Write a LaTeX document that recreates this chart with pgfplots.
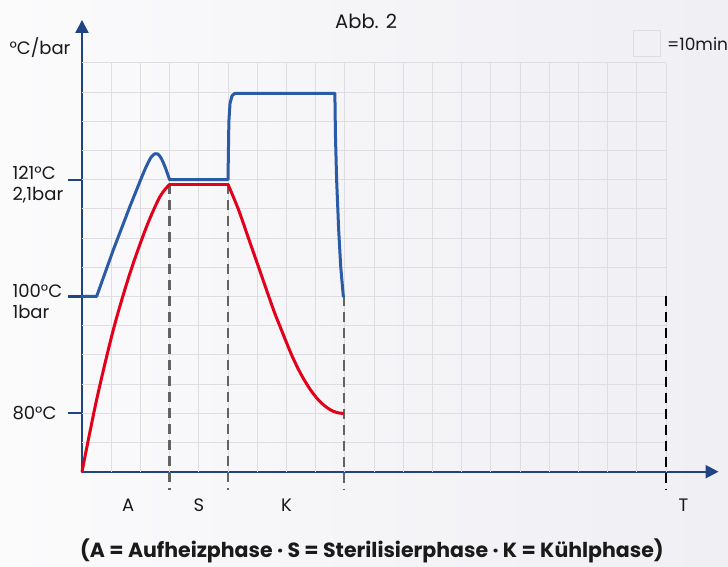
\documentclass[border=0pt]{standalone}
\usepackage{pgfplots}
\pgfplotsset{compat=1.18}
\usepackage{fontspec}
\setmainfont{Poppins}
\usetikzlibrary{arrows.meta}
\definecolor{axisblue}{HTML}{1E4483}
\definecolor{curveblue}{HTML}{2B5BA6}
\definecolor{curvered}{HTML}{E2001A}
\definecolor{dashgray}{HTML}{636363}
\definecolor{gridgray}{HTML}{DEDEE2}
\definecolor{txt}{HTML}{1A1A1A}
\definecolor{bgleft}{HTML}{FBFBFC}
\definecolor{bgright}{HTML}{EFEFF4}
\begin{document}
\begin{tikzpicture}
\fill[left color=bgleft, right color=bgright] (-82bp,-95.3bp) rectangle (646bp,471.7bp);
\begin{axis}[
  x=29.2bp, y=29.2bp,
  xmin=0, xmax=21.8, ymin=0, ymax=15.47,
  axis lines=left,
  axis line style={draw=axisblue, line width=2.2bp},
  x axis line style={-{Triangle[length=13bp,width=13bp]}},
  y axis line style={-{Triangle[length=13bp,width=13bp]}},
  xtick=\empty,
  ytick={2,6,10}, yticklabels={},
  major tick length=14bp, tick align=outside,
  ytick pos=left,
  tick style={draw=axisblue, line width=2.2bp},
  clip=false,
  every axis plot/.append style={line join=round, line cap=round},
  font=\fontsize{18bp}{20bp}\selectfont,
]
% grid
\pgfplotsinvokeforeach{1,...,20}{\draw[gridgray, line width=1bp] (axis cs:#1,0) -- (axis cs:#1,14);}
\pgfplotsinvokeforeach{1,...,14}{\draw[gridgray, line width=1bp] (axis cs:0,#1) -- (axis cs:20,#1);}
% dashed markers
\addplot[dashgray, line width=2.5bp, dash pattern=on 10bp off 6bp, line cap=butt] coordinates {(3,9.84) (3,-0.62)};
\addplot[dashgray, line width=2.5bp, dash pattern=on 10bp off 6bp, line cap=butt] coordinates {(5,9.84) (5,-0.62)};
\addplot[dashgray, line width=2.5bp, dash pattern=on 10bp off 6bp, line cap=butt] coordinates {(8.97,6) (8.97,-0.62)};
\addplot[black, line width=2.5bp, dash pattern=on 10bp off 6bp, line cap=butt] coordinates {(20,6) (20,-0.62)};
% red curve
\addplot[curvered, line width=3bp, smooth] coordinates {(0,0) (0.5,2.46) (1.07,4.85) (1.64,6.79) (2.21,8.39) (2.67,9.42) (3,9.84)};
\addplot[curvered, line width=3bp] coordinates {(3,9.84) (5,9.84)};
\addplot[curvered, line width=3bp, smooth] coordinates {(5,9.84) (5.35,9.0) (5.70,8.0) (6.05,7.0) (6.39,6.02) (6.6,5.43) (6.8,4.93) (7.0,4.43) (7.2,3.95) (7.4,3.53) (7.6,3.16) (7.8,2.84) (8.0,2.57) (8.2,2.35) (8.4,2.19) (8.6,2.07) (8.8,2.01) (8.94,2.0)};
% blue curve
\addplot[curveblue, line width=3bp] coordinates {(0,6) (0.5,6) (1.07,7.59) (1.64,9.08) (2.05,10.1)};
\addplot[curveblue, line width=3bp, smooth] coordinates {(2.05,10.1) (2.2,10.45) (2.36,10.76) (2.5,10.89) (2.6,10.88) (2.72,10.72) (2.84,10.45) (3,10.0)};
\addplot[curveblue, line width=3bp] coordinates {(3,10) (5,10) (5.03,12.0) (5.07,12.62) (5.14,12.88) (5.24,12.96) (8.66,12.96) (8.68,11.5) (8.72,10) (8.79,8.28) (8.86,7.02) (8.95,6.0)};
% labels
\node[anchor=west, txt] at (axis cs:-2.5,10.22) {121°C};
\node[anchor=west, txt] at (axis cs:-2.5,9.47) {2,1bar};
\node[anchor=west, txt] at (axis cs:-2.5,6.2) {100°C};
\node[anchor=west, txt] at (axis cs:-2.5,5.46) {1bar};
\node[anchor=west, txt] at (axis cs:-2.5,2.02) {80°C};
\node[txt] at (axis cs:-1.44,14.54) {°C/bar};
\node[txt, font=\fontsize{19.5bp}{22bp}\selectfont] at (axis cs:9.73,15.43) {Abb. 2};
\node[txt] at (axis cs:1.58,-1.14) {A};
\node[txt] at (axis cs:4.0,-1.14) {S};
\node[txt] at (axis cs:7.0,-1.14) {K};
\node[txt] at (axis cs:20.6,-1.14) {T};
\draw[gridgray, line width=1.2bp] (axis cs:18.9,14.21) rectangle (axis cs:19.8,15.1);
\node[anchor=west, txt, inner sep=0pt, font=\fontsize{17bp}{20bp}\selectfont] at (axis cs:20.03,14.66) {=10min};
\node[txt, font=\fontsize{20.5bp}{22bp}\selectfont\bfseries] at (axis cs:9.93,-2.71) {(A = Aufheizphase · S = Sterilisierphase · K = Kühlphase)};
\end{axis}
\pgfresetboundingbox
\path[use as bounding box] (-82bp,-95.3bp) rectangle (646bp,471.7bp);
\end{tikzpicture}
\end{document}
